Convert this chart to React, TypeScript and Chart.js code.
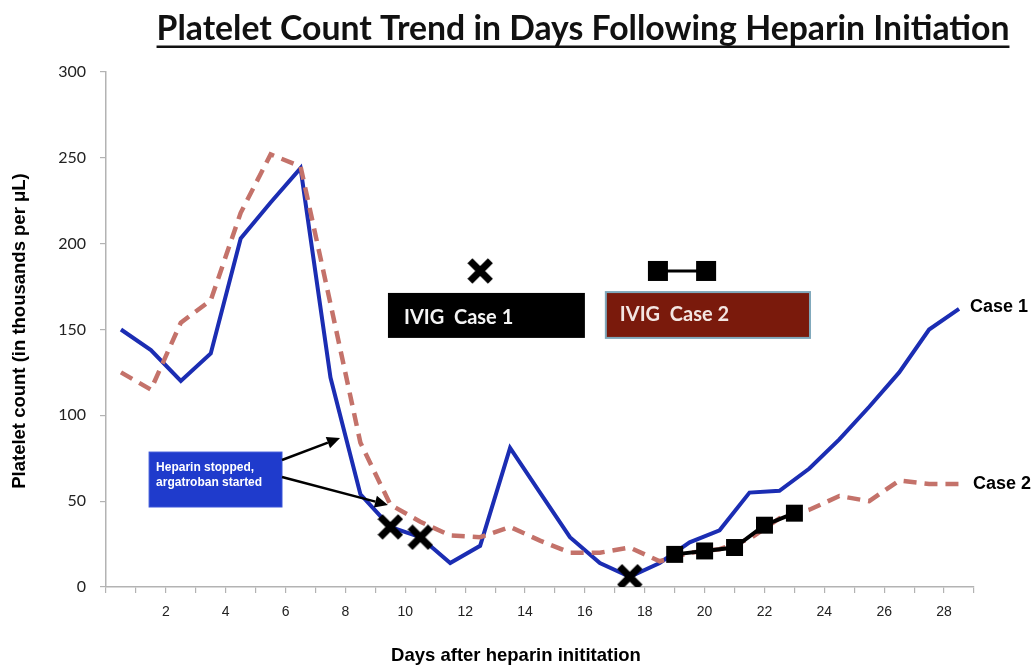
import React, { useEffect, useRef } from "react";
import { Chart, registerables } from "chart.js";

Chart.register(...registerables);

// ---------- data ----------
const days = [
  0.5, 1.5, 2.5, 3.5, 4.5, 5.5, 6.5, 7.5, 8.5, 9.5, 10.5, 11.5, 12.5, 13.5, 14.5,
  15.5, 16.5, 17.5, 18.5, 19.5, 20.5, 21.5, 22.5, 23.5, 24.5, 25.5, 26.5, 27.5, 28.5,
];
const case1 = [
  150, 138, 120, 136, 203, 224, 244, 122, 54, 35, 29, 14, 24, 81, 55,
  29, 14, 6, 14, 26, 33, 55, 56, 69, 86, 105, 125, 150, 162,
];
const case2 = [
  125, 115, 154, 167, 218, 252, 245, 165, 84, 48, 38, 30, 29, 35, 27,
  20, 20, 23, 15, 20, 22, 28, 40, 45, 53, 50, 62, 60, 60,
];
const ivigCase1Days = [9.5, 10.5, 17.5];
const ivigCase1Values = [35, 29, 6];
const ivigCase2Days = [19, 20, 21, 22, 23];
const ivigCase2Values = [19, 21, 23, 36, 43];
const xLabelDays = [2, 4, 6, 8, 10, 12, 14, 16, 18, 20, 22, 24, 26, 28];
const yTickValues = [0, 50, 100, 150, 200, 250, 300];

const TITLE = "Platelet Count Trend in Days Following Heparin Initiation";
const X_TITLE = "Days after heparin inititation";
const Y_TITLE = "Platelet count (in thousands per \u03BCL)";

function makeCross(size: number, lw: number): HTMLCanvasElement {
  const c = document.createElement("canvas");
  c.width = size;
  c.height = size;
  const g = c.getContext("2d")!;
  g.strokeStyle = "#000";
  g.lineWidth = lw;
  g.lineCap = "square";
  const m = lw * 0.75;
  g.beginPath();
  g.moveTo(m, m);
  g.lineTo(size - m, size - m);
  g.moveTo(size - m, m);
  g.lineTo(m, size - m);
  g.stroke();
  return c;
}

function arrow(ctx: CanvasRenderingContext2D, x1: number, y1: number, x2: number, y2: number) {
  const ang = Math.atan2(y2 - y1, x2 - x1);
  const head = 13;
  const hw = 6;
  const bx = x2 - head * Math.cos(ang);
  const by = y2 - head * Math.sin(ang);
  ctx.strokeStyle = "#000";
  ctx.fillStyle = "#000";
  ctx.lineWidth = 2.5;
  ctx.beginPath();
  ctx.moveTo(x1, y1);
  ctx.lineTo(bx, by);
  ctx.stroke();
  ctx.beginPath();
  ctx.moveTo(x2, y2);
  ctx.lineTo(bx + hw * Math.sin(ang), by - hw * Math.cos(ang));
  ctx.lineTo(bx - hw * Math.sin(ang), by + hw * Math.cos(ang));
  ctx.closePath();
  ctx.fill();
}

export default function App() {
  const ref = useRef<HTMLCanvasElement | null>(null);

  useEffect(() => {
    document.body.style.margin = "0";
    const canvas = ref.current!;
    const cross = makeCross(26, 7);

    const annot = {
      id: "annot",
      afterDraw(chart: any) {
        const { ctx } = chart;
        const xs = chart.scales.x;
        const ys = chart.scales.y;
        const X = (v: number) => xs.getPixelForValue(v);
        const Y = (v: number) => ys.getPixelForValue(v);
        ctx.save();

        // Title
        ctx.fillStyle = "#111";
        ctx.textBaseline = "alphabetic";
        ctx.textAlign = "left";
        let fs = 30;
        ctx.font = `bold ${fs}px Lato`;
        const w0 = ctx.measureText(TITLE).width;
        fs = (fs * 853) / w0;
        ctx.font = `bold ${fs}px Lato`;
        const tw = ctx.measureText(TITLE).width;
        const tx = 583 - tw / 2;
        ctx.fillText(TITLE, tx, 40);
        ctx.fillRect(tx, 45.5, tw, 2.5);

        // Axis titles
        ctx.fillStyle = "#000";
        ctx.font = "bold 18.5px 'Liberation Sans'";
        ctx.textAlign = "center";
        ctx.textBaseline = "alphabetic";
        ctx.fillText(X_TITLE, 516, 661);
        ctx.textBaseline = "middle";
        ctx.save();
        ctx.translate(20, 331);
        ctx.rotate(-Math.PI / 2);
        ctx.fillText(Y_TITLE, 0, 0);
        ctx.restore();

        // Case labels at the end of each series
        ctx.textAlign = "left";
        ctx.font = "bold 18px 'Liberation Sans'";
        ctx.fillText("Case 1", X(days[days.length - 1]) + 11, Y(case1[case1.length - 1]) - 2);
        ctx.fillText("Case 2", X(days[days.length - 1]) + 14, Y(case2[case2.length - 1]));

        // IVIG Case 1 box
        const b1x = X(9.42), b1y = Y(171.3), b1w = X(16.0) - b1x, b1h = Y(145.1) - b1y;
        ctx.fillStyle = "#000";
        ctx.fillRect(b1x, b1y, b1w, b1h);
        ctx.fillStyle = "#f4f4f4";
        ctx.font = "bold 20px Lato";
        ctx.textBaseline = "middle";
        ctx.fillText("IVIG  Case 1", b1x + 16, b1y + b1h / 2 + 2);
        // legend cross
        ctx.drawImage(cross, X(12.5) - 13, Y(184.1) - 13);

        // IVIG Case 2 box
        const b2x = X(16.7), b2y = Y(171.8), b2w = X(23.52) - b2x, b2h = Y(145.1) - b2y;
        ctx.fillStyle = "#7a1a0c";
        ctx.fillRect(b2x, b2y, b2w, b2h);
        ctx.strokeStyle = "#7fa8bb";
        ctx.lineWidth = 2;
        ctx.strokeRect(b2x, b2y, b2w, b2h);
        ctx.fillStyle = "#f3e6e2";
        ctx.fillText("IVIG  Case 2", b2x + 14, b2y + b2h / 2);
        // legend square-line
        const sq1 = X(18.44), sq2 = X(20.05), sqy = Y(184.1);
        ctx.strokeStyle = "#000";
        ctx.lineWidth = 3;
        ctx.beginPath();
        ctx.moveTo(sq1, sqy);
        ctx.lineTo(sq2, sqy);
        ctx.stroke();
        ctx.fillStyle = "#000";
        ctx.fillRect(sq1 - 10, sqy - 10, 20, 20);
        ctx.fillRect(sq2 - 10, sqy - 10, 20, 20);

        // Heparin box
        const hx = X(1.44), hy = Y(78.6), hw = X(5.88) - hx, hh = Y(46.6) - hy;
        ctx.fillStyle = "#1f3bcc";
        ctx.fillRect(hx, hy, hw, hh);
        ctx.strokeStyle = "#3a55d8";
        ctx.lineWidth = 1;
        ctx.strokeRect(hx, hy, hw, hh);
        ctx.fillStyle = "#fff";
        ctx.font = "bold 12px 'Liberation Sans'";
        ctx.textBaseline = "middle";
        ctx.fillText("Heparin stopped,", hx + 7, hy + 16);
        ctx.fillText("argatroban started", hx + 7, hy + 31);

        // arrows
        arrow(ctx, X(5.88), Y(74.0), X(7.82), Y(86.8));
        arrow(ctx, X(5.88), Y(64.1), X(9.42), Y(47.8));

        ctx.restore();
      },
    };

    const chart = new Chart(canvas, {
      type: "line",
      data: {
        datasets: [
          {
            label: "IVIG Case 1",
            data: ivigCase1Days.map((d, i) => ({ x: d, y: ivigCase1Values[i] })),
            showLine: false,
            pointStyle: cross as any,
            pointRadius: 13,
            borderColor: "#000",
            backgroundColor: "#000",
          },
          {
            label: "IVIG Case 2",
            data: ivigCase2Days.map((d, i) => ({ x: d, y: ivigCase2Values[i] })),
            borderColor: "#000",
            backgroundColor: "#000",
            borderWidth: 4,
            pointStyle: "rect",
            pointRadius: 12,
            pointBorderWidth: 0,
            pointBackgroundColor: "#000",
          },
          {
            label: "Case 2",
            data: days.map((d, i) => ({ x: d, y: case2[i] })),
            borderColor: "#c4726a",
            borderWidth: 4.5,
            borderDash: [13, 8],
            pointRadius: 0,
            tension: 0,
          },
          {
            label: "Case 1",
            data: days.map((d, i) => ({ x: d, y: case1[i] })),
            borderColor: "#1b2db3",
            borderWidth: 4,
            pointRadius: 0,
            tension: 0,
          },
        ],
      },
      options: {
        animation: false,
        responsive: false,
        devicePixelRatio: 1,
        layout: { padding: { top: 72, right: 62, bottom: 0, left: 0 } },
        plugins: {
          legend: { display: false },
          tooltip: { enabled: false },
          title: { display: false },
        },
        scales: {
          x: {
            type: "linear",
            min: 0,
            max: 29,
            afterFit: (s: any) => {
              s.height = 80;
            },
            border: { display: true, color: "#b3b3b3", width: 1.5 },
            grid: { drawOnChartArea: false, drawTicks: true, tickLength: 6, color: "#b3b3b3", lineWidth: 1.2 },
            ticks: {
              stepSize: 1,
              autoSkip: false,
              maxRotation: 0,
              padding: 11,
              color: "#222",
              font: { family: "'Liberation Sans Narrow', 'Liberation Sans'", size: 14 },
              callback: (v: any) => (xLabelDays.includes(Number(v)) ? String(v) : ""),
            },
          },
          y: {
            min: 0,
            max: 300,
            afterFit: (s: any) => {
              s.width = 106;
            },
            afterBuildTicks: (s: any) => {
              s.ticks = yTickValues.map((v) => ({ value: v }));
            },
            border: { display: true, color: "#b3b3b3", width: 1.5 },
            grid: { drawOnChartArea: false, drawTicks: true, tickLength: 6, color: "#b3b3b3", lineWidth: 1.2 },
            ticks: {
              padding: 14,
              color: "#222",
              font: { family: "Lato", size: 16 },
            },
          },
        },
      },
      plugins: [annot],
    });

    return () => chart.destroy();
  }, []);

  return (
    <div style={{ width: 1036, height: 667, background: "#fff" }}>
      <canvas ref={ref} width={1036} height={667} style={{ width: 1036, height: 667, display: "block" }} />
    </div>
  );
}
